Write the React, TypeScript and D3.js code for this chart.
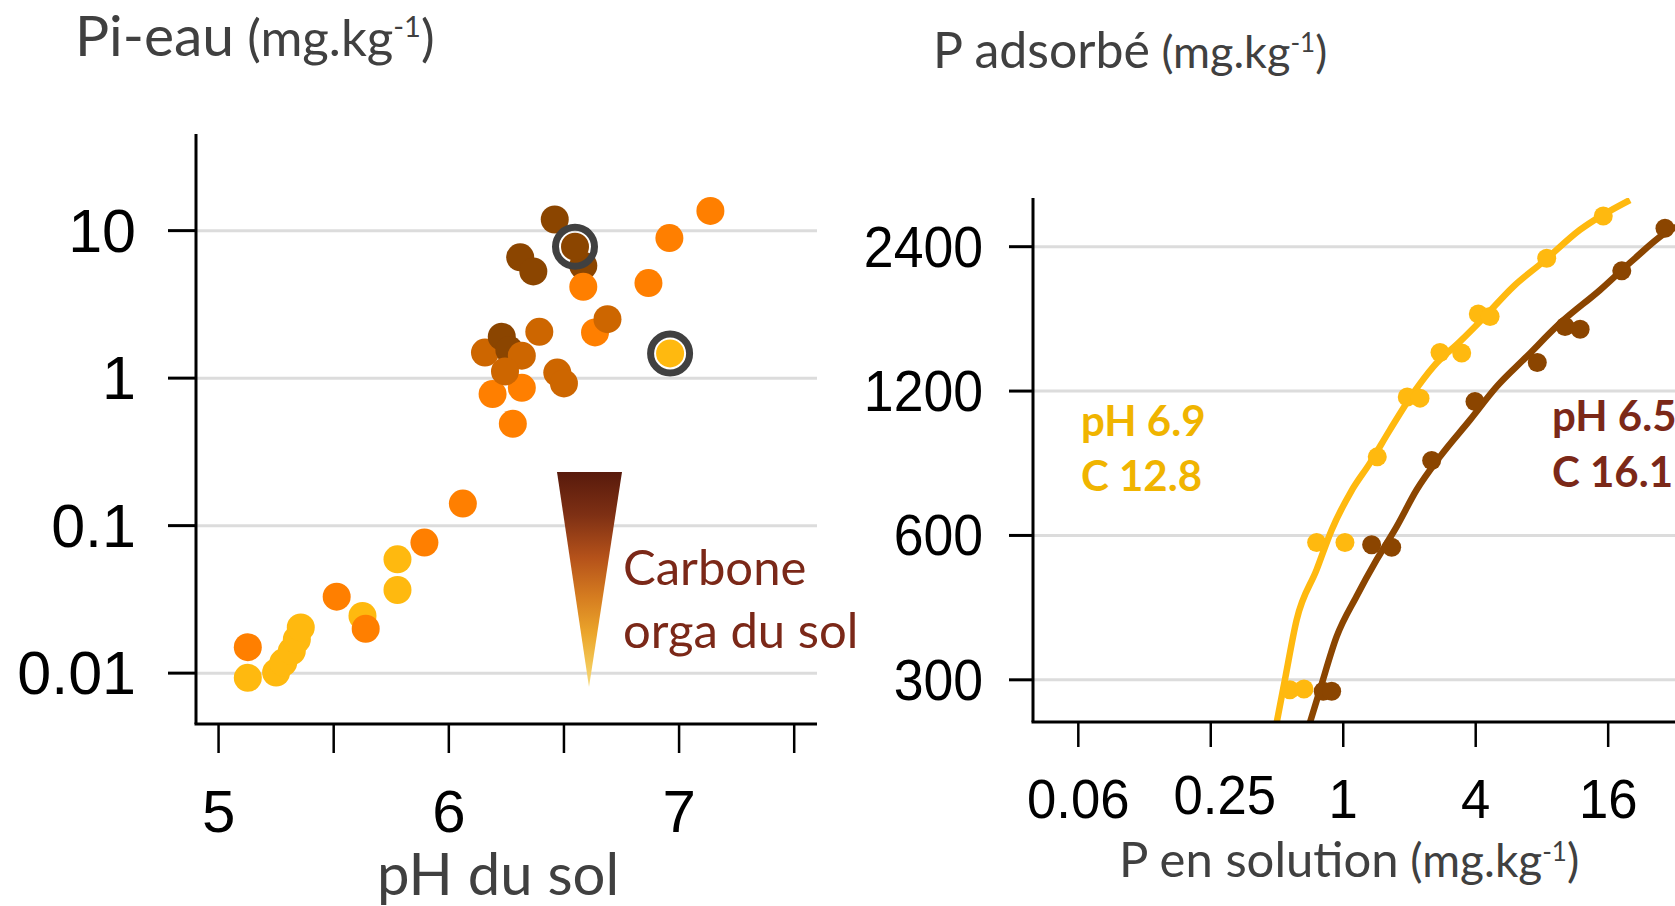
import React from 'react';
import * as d3 from 'd3';

const W = 1675;
const H = 906;

// ---- Left panel: water-extractable P vs soil pH, coloured by soil organic carbon class ----
// class: 0 = low C (yellow) ... 3 = high C (dark brown); listed in drawing order
const phSol = [
  5.127, 5.250, 5.281, 5.318, 5.340, 5.357, 5.625, 5.777, 5.777, 6.961,
  5.127, 5.513, 5.639, 5.894, 6.061, 6.278, 6.190, 6.317,
  6.157, 6.230, 6.263, 6.317, 6.244, 6.471, 6.500, 6.393,
  6.635, 6.689, 6.584, 6.310, 6.367, 6.460, 6.548,
  6.584, 6.958, 6.867, 7.136,
];
const piEau = [
  0.0093, 0.0101, 0.0118, 0.0141, 0.0169, 0.0204, 0.0244, 0.0591, 0.0366, 1.47,
  0.0150, 0.0330, 0.0200, 0.0768, 0.141, 0.49, 0.78, 0.86,
  1.49, 1.91, 1.55, 1.42, 1.11, 1.09, 0.92, 2.06,
  2.04, 2.51, 5.78, 6.59, 5.29, 11.9, 7.78,
  4.16, 8.91, 4.41, 13.6,
];
const classeCarbone = [
  0, 0, 0, 0, 0, 0, 0, 0, 0, 0,
  1, 1, 1, 1, 1, 1, 1, 1,
  2, 3, 3, 2, 2, 2, 2, 2,
  1, 2, 3, 3, 3, 3, 3,
  1, 1, 1, 1,
];
const solsEntoures = [32, 9];
const couleursCarbone = ['#FFB90F', '#FF7F00', '#CD6600', '#8B4500'];

const piTicks = [0.01, 0.1, 1, 10];
const piTickLabels = ['0.01', '0.1', '1', '10'];
const phTicks = [5, 5.5, 6, 6.5, 7, 7.5];
const phTickLabels = ['5', '', '6', '', '7', ''];

// ---- Right panel: adsorption isotherms of the two circled soils ----
const solJauneSolution = [0.572, 0.663, 0.757, 1.018, 1.428, 1.954, 2.233, 2.753, 3.455, 4.11, 4.65, 8.41, 15.2];
const solJauneAdsorbe = [286, 287, 580, 580, 875, 1166, 1160, 1444, 1440, 1738, 1716, 2271, 2782];
const solBrunSolution = [0.811, 0.886, 1.346, 1.66, 2.523, 3.97, 7.62, 10.19, 11.93, 18.45, 29.0];
const solBrunAdsorbe = [284, 284, 574, 567, 860, 1141, 1376, 1636, 1615, 2137, 2623];

const ajustJauneSolution = [0.498, 0.543, 0.614, 0.757, 0.886, 1.084, 1.322, 1.63, 2.08, 2.57, 3.39, 4.33, 5.93, 8.12, 11.9, 20.1];
const ajustJauneAdsorbe = [244, 300, 400, 509, 616, 740, 849, 996, 1188, 1350, 1522, 1703, 1982, 2234, 2601, 3003];
const ajustBrunSolution = [0.705, 0.784, 0.933, 1.15, 1.419, 1.749, 2.157, 2.753, 3.77, 4.98, 6.82, 9.67, 14.7, 20.8, 30.6, 41.9];
const ajustBrunAdsorbe = [244, 286, 369, 448, 534, 626, 747, 876, 1045, 1226, 1416, 1662, 1950, 2253, 2601, 2730];

const adsTicks = [300, 600, 1200, 2400];
const solTicks = [0.0625, 0.25, 1, 4, 16];
const solTickLabels = ['0.06', '0.25', '1', '4', '16'];

const TICK_FONT = '"Liberation Sans", Arial, sans-serif';
const TEXT_FONT = 'Lato, "Open Sans", sans-serif';
const GREY_TEXT = '#404040';
const RED_BROWN = '#7B2818';
const GOLD_TEXT = '#F0B400';
const GRID = '#DCDCDC';

export default function App() {
  // left scales
  const xPh = d3.scaleLinear().domain([4.902, 7.599]).range([196, 817]);
  const yPi = d3.scaleLog().domain([0.00452, 45.2]).range([724, 134]);

  // right scales (log base 2)
  const xSol = d3.scaleLog().base(2).domain([0.0389, 32.2]).range([1033, 1675]);
  const yAds = d3.scaleLog().base(2).domain([245, 3032]).range([722, 198]);

  const ligne = (xs: number[], ys: number[]) =>
    d3
      .line<number>()
      .x((_, i) => xSol(xs[i]))
      .y((_, i) => yAds(ys[i]))
      .curve(d3.curveMonotoneX)(xs) || '';

  const [lx0, lx1] = xPh.range();
  const [ly0, ly1] = yPi.range();
  const [rx0, rx1] = xSol.range();
  const [ry0, ry1] = yAds.range();

  return (
    <svg
      width={W}
      height={H}
      viewBox={`0 0 ${W} ${H}`}
      style={{ position: 'absolute', left: 0, top: 0, background: '#fff' }}
    >
      <defs>
        <linearGradient id="gradCarbone" x1="0" y1="0" x2="0" y2="1">
          <stop offset="0" stopColor="#581A0C" />
          <stop offset="0.2" stopColor="#7E3014" />
          <stop offset="0.4" stopColor="#B5521A" />
          <stop offset="0.58" stopColor="#D57C20" />
          <stop offset="0.75" stopColor="#EBA52B" />
          <stop offset="0.9" stopColor="#F3C655" />
          <stop offset="1" stopColor="#F6DA80" />
        </linearGradient>
        <clipPath id="clipDroite">
          <rect x={rx0} y={ry1} width={rx1 - rx0} height={ry0 - ry1} />
        </clipPath>
      </defs>

      {/* ---------- Left panel ---------- */}
      <text x={75} y={56} fontFamily={TEXT_FONT} fill={GREY_TEXT}>
        <tspan fontSize={57}>Pi-eau</tspan>
        <tspan fontSize={51}> (mg.kg</tspan>
        <tspan fontSize={29} dy={-19}>-1</tspan>
        <tspan fontSize={51} dy={19}>)</tspan>
      </text>

      {piTicks.map((t) => (
        <line key={'g' + t} x1={lx0} x2={lx1} y1={yPi(t)} y2={yPi(t)} stroke={GRID} strokeWidth={3} />
      ))}

      {phSol.map((ph, i) => (
        <circle key={'p' + i} cx={xPh(ph)} cy={yPi(piEau[i])} r={14} fill={couleursCarbone[classeCarbone[i]]} />
      ))}
      {solsEntoures.map((i) => (
        <circle key={'c' + i} cx={xPh(phSol[i])} cy={yPi(piEau[i])} r={19.5} fill="none" stroke="#404040" strokeWidth={7} />
      ))}

      {/* axes */}
      <line x1={lx0} x2={lx0} y1={ly1} y2={ly0} stroke="#000" strokeWidth={3} />
      <line x1={lx0 - 1.5} x2={lx1} y1={ly0} y2={ly0} stroke="#000" strokeWidth={3} />
      {piTicks.map((t, i) => (
        <g key={'yt' + t}>
          <line x1={lx0 - 28} x2={lx0} y1={yPi(t)} y2={yPi(t)} stroke="#000" strokeWidth={3} />
          <text x={136} y={yPi(t) + 21} textAnchor="end" fontFamily={TICK_FONT} fontSize={61} fill="#000">
            {piTickLabels[i]}
          </text>
        </g>
      ))}
      {phTicks.map((t, i) => (
        <g key={'xt' + t}>
          <line x1={xPh(t)} x2={xPh(t)} y1={ly0} y2={ly0 + 29} stroke="#000" strokeWidth={2.5} />
          <text x={xPh(t)} y={832} textAnchor="middle" fontFamily={TICK_FONT} fontSize={60} fill="#000">
            {phTickLabels[i]}
          </text>
        </g>
      ))}
      <text x={498} y={895} textAnchor="middle" fontFamily={TEXT_FONT} fontSize={58} fill={GREY_TEXT}>
        pH du sol
      </text>

      {/* carbon legend wedge */}
      <polygon points="557,472 622,472 589,687" fill="url(#gradCarbone)" />
      <text fontFamily={TEXT_FONT} fontSize={49} fill={RED_BROWN}>
        <tspan x={623} y={585}>Carbone</tspan>
        <tspan x={623} y={648}>orga du sol</tspan>
      </text>

      {/* ---------- Right panel ---------- */}
      <text x={933} y={68} fontFamily={TEXT_FONT} fill={GREY_TEXT}>
        <tspan fontSize={50}>P adsorbé</tspan>
        <tspan fontSize={45}> (mg.kg</tspan>
        <tspan fontSize={26} dy={-16}>-1</tspan>
        <tspan fontSize={45} dy={16}>)</tspan>
      </text>

      {adsTicks.map((t) => (
        <line key={'rg' + t} x1={rx0} x2={rx1} y1={yAds(t)} y2={yAds(t)} stroke={GRID} strokeWidth={3} />
      ))}

      <g clipPath="url(#clipDroite)">
        <path d={ligne(ajustJauneSolution, ajustJauneAdsorbe)} fill="none" stroke="#FFB90F" strokeWidth={6.5} />
        <path d={ligne(ajustBrunSolution, ajustBrunAdsorbe)} fill="none" stroke="#8B4500" strokeWidth={6.5} />
        {solJauneSolution.map((s, i) => (
          <circle key={'yj' + i} cx={xSol(s)} cy={yAds(solJauneAdsorbe[i])} r={9.5} fill="#FFB90F" />
        ))}
        {solBrunSolution.map((s, i) => (
          <circle key={'yb' + i} cx={xSol(s)} cy={yAds(solBrunAdsorbe[i])} r={9.5} fill="#8B4500" />
        ))}
      </g>

      <text fontFamily={TEXT_FONT} fontWeight={700} fontSize={42} fill={GOLD_TEXT}>
        <tspan x={1081} y={436}>pH 6.9</tspan>
        <tspan x={1081} y={491}>C 12.8</tspan>
      </text>
      <text fontFamily={TEXT_FONT} fontWeight={700} fontSize={42} fill={RED_BROWN}>
        <tspan x={1552} y={431}>pH 6.5</tspan>
        <tspan x={1552} y={487}>C 16.1</tspan>
      </text>

      <line x1={rx0} x2={rx0} y1={ry1} y2={ry0} stroke="#000" strokeWidth={3} />
      <line x1={rx0 - 1.5} x2={rx1} y1={ry0} y2={ry0} stroke="#000" strokeWidth={3} />
      {adsTicks.map((t) => (
        <g key={'ryt' + t}>
          <line x1={rx0 - 24} x2={rx0} y1={yAds(t)} y2={yAds(t)} stroke="#000" strokeWidth={3} />
          <text
            transform={`translate(983,${yAds(t) + 20}) scale(0.94,1)`}
            textAnchor="end"
            fontFamily={TICK_FONT}
            fontSize={57}
            fill="#000"
          >
            {t}
          </text>
        </g>
      ))}
      {solTicks.map((t, i) => (
        <g key={'rxt' + t}>
          <line x1={xSol(t)} x2={xSol(t)} y1={ry0} y2={ry0 + 25} stroke="#000" strokeWidth={2.5} />
          <text
            transform={`translate(${xSol(t) + (t === 0.25 ? 14 : 0)},${t === 0.25 ? 814 : 818}) scale(0.94,1)`}
            textAnchor="middle"
            fontFamily={TICK_FONT}
            fontSize={56}
            fill="#000"
          >
            {solTickLabels[i]}
          </text>
        </g>
      ))}
      <text x={1119} y={877} fontFamily={TEXT_FONT} fill={GREY_TEXT}>
        <tspan fontSize={49}>P en solution</tspan>
        <tspan fontSize={46}> (mg.kg</tspan>
        <tspan fontSize={26} dy={-16}>-1</tspan>
        <tspan fontSize={46} dy={16}>)</tspan>
      </text>
    </svg>
  );
}
